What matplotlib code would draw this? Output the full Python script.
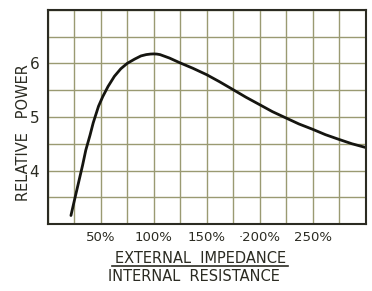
import matplotlib
matplotlib.use("Agg")
import matplotlib.pyplot as plt
import numpy as np
from matplotlib.ticker import MultipleLocator, FixedLocator, FixedFormatter

# Data
impedance_pct = [22, 25, 29, 33, 36, 40, 43, 48, 52, 57, 63, 69, 75, 82, 88, 93, 97, 100, 103, 106, 115, 125,
                 137, 150, 162, 175, 187, 200, 212, 225, 237, 250, 262, 275, 287, 300]
relative_power = [3.16, 3.42, 3.76, 4.10, 4.38, 4.66, 4.89, 5.20, 5.38, 5.57, 5.76, 5.90, 6.00, 6.08,
                  6.14, 6.165, 6.175, 6.178, 6.175, 6.165, 6.10, 6.01, 5.91, 5.79, 5.66, 5.51, 5.37, 5.23, 5.10,
                  4.98, 4.87, 4.77, 4.67, 4.58, 4.50, 4.43]
x_tick_values = [50, 100, 150, 200, 250]
x_tick_labels = ["50%", "100%", "150%", "·200%", "250%"]
y_tick_values = [4, 5, 6]
y_tick_labels = ["4", "5", "6"]

ink = "#2b2b22"
grid_col = "#9a9a72"

fig = plt.figure(figsize=(3.72, 2.91), dpi=100)
ax = fig.add_axes([0.128, 0.230, 0.855, 0.736])
ax.set_xlim(0, 300)
ax.set_ylim(3, 7)

ax.xaxis.set_minor_locator(MultipleLocator(25))
ax.yaxis.set_minor_locator(MultipleLocator(0.5))
ax.xaxis.set_major_locator(FixedLocator(x_tick_values))
ax.xaxis.set_major_formatter(FixedFormatter(x_tick_labels))
ax.yaxis.set_major_locator(FixedLocator(y_tick_values))
ax.yaxis.set_major_formatter(FixedFormatter(y_tick_labels))
ax.grid(True, which="both", color=grid_col, linewidth=1.0)
ax.set_axisbelow(True)
ax.tick_params(which="both", length=0, labelsize=9.5, colors=ink)
ax.tick_params(axis="x", pad=5)
ax.tick_params(axis="y", pad=6, labelsize=11)
for s in ax.spines.values():
    s.set_color(ink)
    s.set_linewidth(1.5)

ax.plot(impedance_pct, relative_power, color="#151510", linewidth=2.0, solid_capstyle="round")

fig.text(0.062, 0.545, "RELATIVE   POWER", rotation=90, ha="center", va="center",
         fontsize=10.5, color=ink)
fig.text(0.538, 0.113, "EXTERNAL  IMPEDANCE", ha="center", va="center", fontsize=10.5, color=ink)
fig.add_artist(plt.Line2D([0.30, 0.775], [0.085, 0.085], color=ink, linewidth=1.2))
fig.text(0.52, 0.050, "INTERNAL  RESISTANCE", ha="center", va="center", fontsize=10.5, color=ink)

fig.savefig("out.png", dpi=100)
